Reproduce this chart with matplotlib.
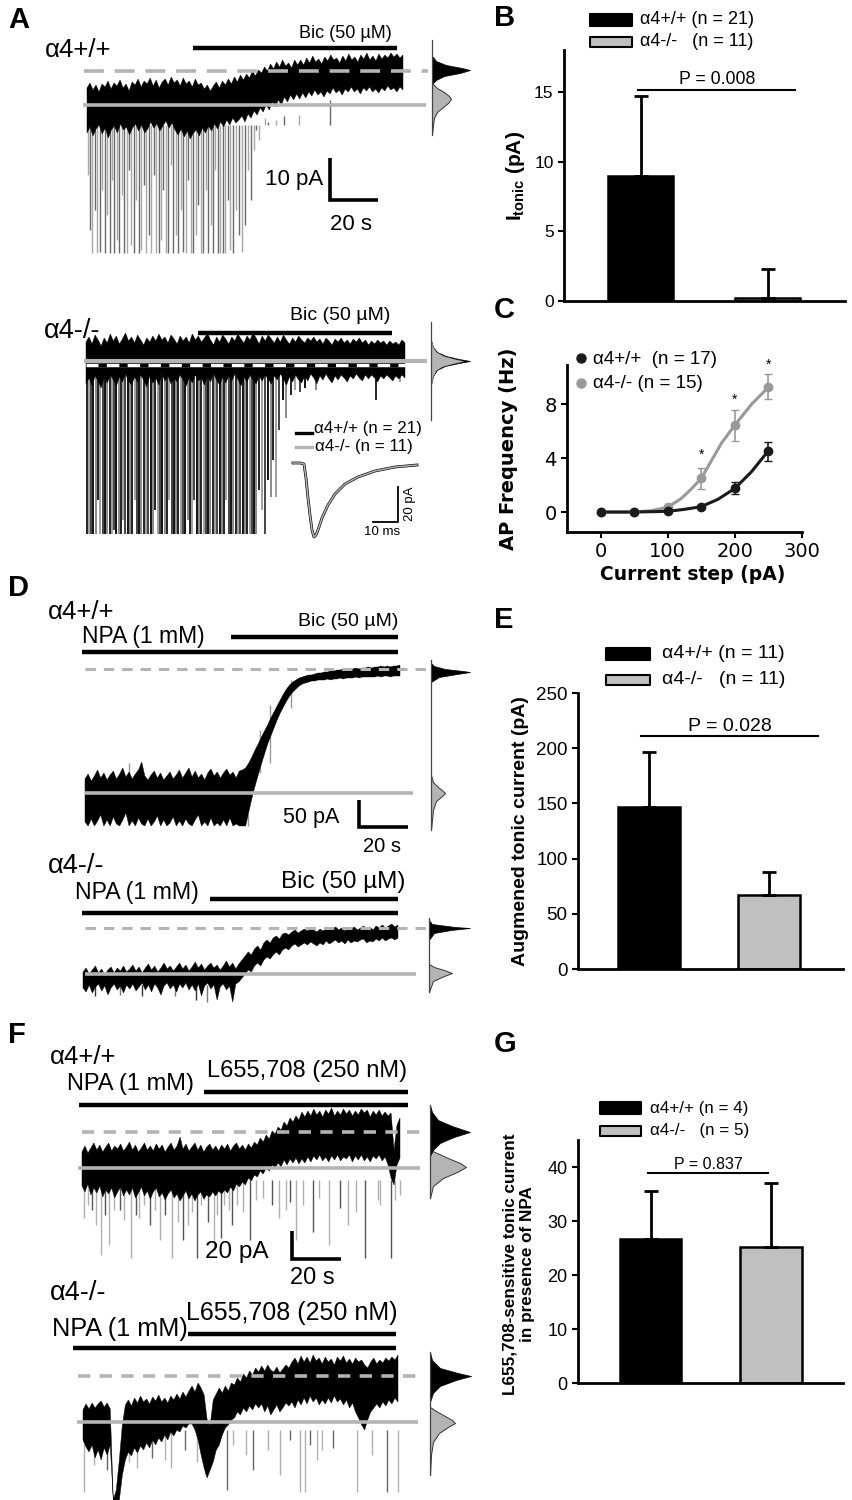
import numpy as np
import matplotlib
matplotlib.use('Agg')
import matplotlib.pyplot as plt

plt.rcParams['font.family'] = ['Liberation Sans', 'DejaVu Sans']
plt.rcParams['mathtext.fontset'] = 'custom'
plt.rcParams['mathtext.rm'] = 'Liberation Sans'
plt.rcParams['mathtext.bf'] = 'Liberation Sans:bold'

W, H = 852, 1500
GRAY = '#b4b4b4'

# ---- traces: envelopes in picture pixels ----
a1_top = [88,83,90,85,92,84,87,81,89,83,86,80,88,84,91,82,85,79,87,81,84,78,86,80,88,82,79,85,77,83,80,86,78,84,81,87,79,85,
          83,89,85,91,86,82,88,81,85,79,84,77,82,75,80,74,78,71,76,70,
          73,67,71,64,69,62,67,60,66,63,68,60,65,
          60,65,58,63,56,62,59,64,57,61,55,60,58,63,56,61,54,60,57,62,55,59,53,60,56,61,54,59,55,58,53,57,54,58,55]
a1_bot = [133,127,136,129,125,134,128,138,130,126,133,124,130,127,135,128,124,131,125,133,129,122,128,124,131,126,121,128,123,130,
          135,129,137,131,139,133,130,136,128,133,126,131,124,129,122,127,120,125,118,123,
          120,116,122,114,118,111,115,108,112,105,110,102,107,
          100,105,97,102,95,100,94,99,93,98,92,96,90,95,92,97,91,94,88,93,90,95,89,92,87,92,89,94,88,91,87,92,89,93,88,91,86,90,88,92,87,90]
a1_sx = [88,90,92,95,97,100,102,105,107,110,112,114,117,119,122,124,127,129,131,134,136,139,141,144,146,149,151,154,156,159,161,163,166,168,171,173,176,178,181,183,186,188,191,193,196,198,201,203,206,208,211,213,215,218,220,223,225,228,230,233,236,239,242,245,248,251,254,256,259,262,265,268,276,284,299,330]
a1_sy = [175,230,253,210,253,252,190,253,215,253,180,253,240,253,195,253,253,170,245,253,200,253,250,185,253,235,253,175,253,253,240,190,253,253,165,253,235,253,210,252,253,180,253,253,235,205,253,253,190,253,225,253,170,253,253,253,253,200,250,253,210,235,252,225,170,200,150,130,140,125,118,122,120,116,115,100]

a2_top = [342,337,344,335,340,346,338,343,334,341,336,344,339,333,341,337,343,335,340,345,338,342,336,341,334,340,337,343,335,339,344,336,341,337,343,334,340,336,342,338,333,340,345,337,342,335,339,344,337,341,334,339,343,336,340,333,338,344,336,341,335,339,343,337,342,335,340,344,338,342,336,340,343,338,341,337,342,339,344,338,341,345,339,342,338,343,340,344,339,342,338,343,340,345,341,344,340,343,341,345,341,344,342,345,340,343]
a2_bot = [384,378,386,376,381,388,377,383,375,380,386,377,382,374,381,385,377,382,375,380,387,376,383,378,385,374,381,376,384,378,382,375,380,386,377,383,375,381,378,385,376,382,374,380,385,377,383,376,381,374,379,386,377,382,375,380,384,376,381,375,379,384,376,380,374,379,385,377,382,375,380,383,376,381,374,378,384,376,380,374,379,383,376,380,375,378,382,376,379,374,378,381,375,379,375,378,382,376,379,375,378,381,376,379,375,378]
a2_sx = [87,89,91,93,96,98,100,103,105,107,110,112,114,116,119,121,123,125,128,130,132,135,137,139,141,144,146,148,151,153,155,158,160,162,165,167,169,172,174,176,178,181,183,185,188,190,192,194,197,199,201,204,206,208,210,213,215,217,220,222,224,226,229,231,233,236,238,240,243,245,247,250,252,254,256,259,262,265,268,271,273,276,279,283,286,291,295,300,305,316,376,400]
a2_sy = [534,534,534,534,534,500,534,534,534,534,534,534,530,534,534,534,520,534,534,534,534,500,534,534,534,534,534,534,534,534,510,534,534,534,534,534,500,534,534,534,534,534,534,534,520,534,534,500,534,534,534,534,534,534,534,534,534,534,534,534,534,500,534,534,534,534,534,534,534,534,534,534,534,534,534,490,510,534,480,497,460,497,430,400,418,395,390,392,388,390,400,382]

d1_top = [779,774,781,776,770,778,773,780,775,771,779,774,768,777,772,779,774,770,762,776,780,775,771,778,773,780,776,772,779,775,770,778,773,768,777,771,778,774,780,773,769,776,772,778,773,769,775,772,778,771,770,
          768,763,757,750,744,737,731,725,718,712,706,700,694,689,685,682,680,678,677,676,675,675,674,673,673,672,672,671,671,670,670,669,670,669,669,668,669,668,668,667,668,667,667,666,667,666,667,666,666,665]
d1_bot = [822,826,819,826,821,815,826,820,826,817,824,826,820,813,826,821,826,818,824,826,819,826,822,816,826,820,826,823,817,826,821,826,819,824,826,820,815,826,822,826,818,826,823,826,820,826,818,826,824,826,826,
          826,812,798,786,775,764,754,744,736,728,720,713,707,701,696,692,689,686,684,683,682,681,681,680,680,680,679,680,679,679,678,679,678,678,678,677,678,677,677,677,677,677,676,677,676,676,677,676,676,676]
d1_sx = [129,248,260,270,291]
d1_sy = [763,826,773,763,708]

d2_top = [972,968,974,970,966,973,969,975,970,967,973,968,971,966,972,969,965,971,967,973,968,964,970,966,972,968,963,969,966,971,967,963,969,965,971,967,962,968,964,970,966,963,968,965,970,966,961,967,963,969,
          964,960,956,952,955,949,946,950,943,940,943,938,936,939,934,933,935,932,930,933,931,929,931,928,930,932,929,931,928,930,929,927,930,928,931,928,929,927,930,928,926,929,927,930,926,928,925,928,926,924,927,925]
d2_bot = [988,992,985,993,987,984,991,986,995,988,984,990,986,993,985,989,984,991,987,983,990,985,992,984,988,995,986,983,989,985,992,984,988,983,990,985,991,984,996,986,983,989,985,1000,987,984,990,986,1002,984,
          982,978,974,970,972,966,963,966,960,957,959,955,952,955,950,948,950,946,944,947,945,943,945,942,944,946,943,945,941,944,942,940,943,941,944,940,943,941,942,940,939,943,941,942,939,941,938,941,939,938,940,938]
d2_sx = [95,120,142,175,196,207]
d2_sy = [996,995,996,996,1000,1002]

f1_top = [1152,1146,1153,1148,1143,1150,1145,1152,1147,1143,1151,1146,1149,1144,1151,1147,1142,1150,1145,1152,1148,1143,1150,1146,1151,1144,1149,1145,1152,1147,1143,1150,1146,1137,1149,1144,1151,1147,1143,1150,1145,1152,1147,1144,1150,1146,1151,1145,1149,1144,1151,1146,1143,1149,1145,
          1150,1144,1148,1142,1145,1138,1142,1135,1139,1131,1134,1127,1130,1122,1126,1118,1122,1116,1120,1112,
          1117,1111,1116,1109,1115,1111,1117,1110,1114,1108,1116,1111,1115,1109,1114,1110,1116,1111,1115,1109,1113,1110,1117,1111,1115,1110,1116,1112,1116,1113,1150,1125,1118]
f1_bot = [1186,1192,1184,1195,1188,1193,1186,1197,1190,1194,1188,1198,1192,1187,1196,1190,1195,1188,1198,1193,1187,1196,1191,1199,1192,1188,1197,1193,1200,1194,1190,1198,1194,1201,1196,1191,1199,1194,1201,1195,1192,1199,1195,1197,1192,1196,1191,1194,1190,1193,1187,1191,1184,1187,1182,
          1185,1178,1181,1175,1177,1171,1174,1168,1171,1165,1168,1163,1167,1160,1165,1159,1163,1158,1164,1159,
          1163,1157,1162,1156,1160,1155,1161,1157,1162,1156,1160,1155,1161,1157,1159,1155,1162,1156,1160,1155,1161,1157,1162,1156,1159,1155,1161,1157,1165,1178,1185,1165,1158]
f1_sx = [84,88,92,96,101,105,109,114,120,124,131,136,139,144,150,155,160,165,172,178,183,188,192,197,201,204,208,214,217,221,224,229,232,237,243,250,256,263,272,279,286,290,296,303,313,319,329,340,348,356,365,378,380,391,395,400]
f1_sy = [1218,1205,1210,1225,1255,1215,1245,1210,1210,1220,1258,1215,1218,1205,1225,1210,1240,1215,1258,1222,1240,1225,1212,1258,1205,1200,1222,1250,1215,1238,1205,1210,1225,1205,1212,1240,1200,1198,1205,1218,1210,1202,1240,1205,1232,1198,1245,1208,1225,1212,1258,1200,1205,1258,1200,1195]

f2_top = [1410,1404,1409,1403,1408,1404,1401,1407,1403,1409,
          1500,1490,1460,1425,
          1405,1400,1406,1398,1403,1396,1402,1399,1404,1397,1401,1395,1402,1398,1403,1396,1400,1394,1399,1392,1397,1391,
          1386,1392,1383,1388,1395,
          1420,1425,
          1400,1394,1388,1393,1386,1391,1383,
          1385,1378,1382,1374,1378,1371,1375,1368,1372,1366,1371,1365,1370,1372,1367,1373,1369,1365,1368,
          1362,1358,1364,1356,1362,1357,1363,1355,1361,1358,1364,1357,1362,1359,1365,1357,1361,1356,1363,1359,1364,1358,1362,1360,1365,1368,1362,1358,1364,1360,1363,1358,1361,1357,1360,1355]
f2_bot = [1440,1447,1452,1445,1458,1450,1460,1448,1455,1445,
          1500,1500,1500,1475,
          1460,1452,1456,1448,1453,1446,1450,1443,1448,1440,1445,1438,1442,1435,1440,1432,1436,1430,1432,1426,1428,1424,
          1424,1430,1440,1455,1468,
          1478,1470,
          1462,1450,1445,1435,1428,1425,1420,
          1418,1412,1415,1408,1412,1406,1410,1404,1408,1404,1412,1406,1415,1410,1405,1412,1408,1403,1406,
          1402,1408,1400,1405,1398,1404,1396,1402,1398,1405,1400,1404,1398,1403,1396,1402,1399,1405,1400,1408,1403,1412,1418,1425,1430,1420,1412,1408,1404,1408,1402,1406,1400,1404,1398,1402]
f2_sx = [84,94,107,129,137,152,165,171,185,197,205,227,233,246,253,268,280,290,300,305,310,317,322,333,357,372,387,398]
f2_sy = [1492,1465,1470,1462,1468,1458,1460,1468,1450,1462,1475,1490,1445,1455,1470,1450,1475,1440,1492,1492,1445,1460,1450,1448,1492,1455,1492,1492]

# histograms beside the traces: y px, profile width px
a1_hist_y = [57,61,65,68,70,73,76,80,83]
a1_hist_w = [1,4,14,30,38,28,12,4,1]
a1_hist2_y = [84,88,92,96,99,103,107,112,118,125,135]
a1_hist2_w = [1,5,12,17,19,16,11,5,2,1,0]
a2_hist_y = [340,347,352,356,359,361,363,366,370,376,385]
a2_hist_w = [0,2,6,15,28,39,28,14,6,2,0]
d1_hist_y = [663,666,669,671,672,674,677,682]
d1_hist_w = [0,3,14,32,39,26,8,0]
d1_hist2_y = [775,782,787,791,793,796,801,810,830]
d1_hist2_w = [0,2,7,12,14,11,5,2,0]
d2_hist_y = [920,924,927,928,930,933,940]
d2_hist_w = [0,3,26,41,22,5,0]
d2_hist2_y = [964,967,970,973,976,981,992]
d2_hist2_w = [0,5,15,23,15,4,0]
f1_hist_y = [1105,1112,1120,1126,1132,1137,1143,1150,1156]
f1_hist_w = [0,2,8,22,40,24,10,3,0]
f1_hist2_y = [1150,1153,1158,1163,1167,1172,1178,1186,1198]
f1_hist2_w = [0,7,18,30,36,27,13,3,0]
f2_hist_y = [1352,1360,1368,1373,1376,1380,1386,1393,1402]
f2_hist_w = [0,2,10,28,41,26,10,3,0]
f2_hist2_y = [1407,1411,1416,1420,1423,1427,1433,1442,1455,1475]
f2_hist2_w = [0,6,15,22,25,18,9,3,1,0]

# mean mIPSC in the inset
ipsc_t = [293,300,304,306,308,310,312,314,316,318,322,328,335,345,358,375,395,417]
ipsc_y = [463,463,464,478,498,515,530,537,535,530,518,505,494,484,477,471,467,465]

# ---- bar panels ----
b_vals = [9.0, 0.25]
b_errs = [14.7, 2.3]
b_p = 15.15
e_vals = [147, 67]
e_errs = [197, 88]
e_p = 211
g_vals = [26.7, 25.2]
g_errs = [35.5, 37]
g_p = 38.9

# ---- panel C ----
steps = [0, 50, 100, 150, 200, 250]
c_black = [0, 0, 0.05, 0.4, 1.75, 4.55]
c_gray = [0, 0, 0.35, 2.5, 6.45, 9.25]
c_black_lo = [0, 0, 0, 0.3, 1.3, 3.8]
c_black_hi = [0, 0, 0.1, 0.5, 2.2, 5.2]
c_gray_lo = [0, 0, 0.25, 1.7, 5.3, 8.4]
c_gray_hi = [0, 0, 0.45, 3.3, 7.6, 10.2]
c_black_cx = [0, 50, 100, 125, 150, 175, 200, 225, 250]
c_black_cy = [0, 0, 0.05, 0.2, 0.4, 0.95, 1.75, 3, 4.55]
c_gray_cx = [0, 50, 75, 100, 120, 135, 150, 165, 180, 200, 225, 250]
c_gray_cy = [0, 0, 0.1, 0.35, 1, 1.7, 2.5, 3.8, 5.1, 6.45, 8, 9.25]
star_x = [150, 200, 250]
star_y = [3.7, 7.8, 10.4]

fig = plt.figure(figsize=(W / 100, H / 100), dpi=100)

# whole figure pixel axes for the recordings
px = fig.add_axes([0, 0, 1, 1])
px.set_xlim(0, W)
px.set_ylim(H, 0)
px.axis('off')


def sub_axes(left, top, right, bottom):
    a = fig.add_axes([left / W, 1 - bottom / H, (right - left) / W, (bottom - top) / H])
    a.patch.set_alpha(0)
    for s in ['top', 'right']:
        a.spines[s].set_visible(False)
    for s in ['left', 'bottom']:
        a.spines[s].set_linewidth(2)
    a.tick_params(width=1.5, length=4)
    return a


def trace(x0, x1, top, bot, sx=None, sy=None, base=None, sp_lw=1.0, sp_cols=('#a8a8a8', '#6a6a6a')):
    if sx is not None:
        px.vlines(sx, base, sy, colors=list(sp_cols), lw=sp_lw, zorder=0.5)
    xt = np.linspace(x0, x1, len(top))
    xb = np.linspace(x0, x1, len(bot))
    px.fill(np.r_[xt, xb[::-1]], np.r_[top, bot[::-1]], color='k', lw=0.3)


def hist(x, y1, w1, y2, w2, top, bottom):
    px.plot([x, x], [top, bottom], color='#444444', lw=0.9)
    px.fill_betweenx(y2, x, np.array(w2) + x, color=GRAY, ec='#333333', lw=0.7)
    px.fill_betweenx(y1, x, np.array(w1) + x, color='k', lw=0.5)


def hbar(x0, x1, y, lw=3.2):
    px.plot([x0, x1], [y, y], color='k', lw=lw, solid_capstyle='butt')


def solid(x0, x1, y, lw=2.6):
    px.plot([x0, x1], [y, y], color=GRAY, lw=lw, solid_capstyle='butt')


def dashed(x0, x1, y, lw=2.6, on=5.5, off=3):
    px.plot([x0, x1], [y, y], color=GRAY, lw=lw, linestyle=(0, (on, off)), dash_capstyle='butt')


def scale(x0, y0, x1, y1):
    px.plot([x0, x0, x1], [y0, y1, y1], color='k', lw=2.6, solid_joinstyle='miter', solid_capstyle='butt')


def label(x, y, s, size=16.5, **kw):
    kw.setdefault('va', 'center')
    px.text(x, y, s, fontsize=size, **kw)


# panel letters
for (lx, ly, s) in [(8, 20, 'A'), (494, 18, 'B'), (494, 310, 'C'), (8, 588, 'D'),
                    (494, 620, 'E'), (8, 1035, 'F'), (494, 1044, 'G')]:
    label(lx, ly, s, size=21, fontweight='bold')

# A top
trace(87, 403, a1_top, a1_bot, a1_sx, a1_sy, base=125)
dashed(84, 428, 71)
solid(83, 426, 105)
hbar(193, 397, 48)
label(345, 33, 'Bic (50 µM)', size=13, ha='center')
label(45, 50, 'α4+/+', size=18.5)
hist(432, a1_hist_y, a1_hist_w, a1_hist2_y, a1_hist2_w, 40, 135)
scale(330, 158, 378, 200)
label(265, 180, '10 pA', size=16)
label(330, 224, '20 s', size=16)

# A bottom
trace(86, 405, a2_top, a2_bot, a2_sx, a2_sy, base=375, sp_lw=1.4, sp_cols=('#222222', '#a0a0a0', '#444444', '#111111', '#8a8a8a'))
px.plot([86, 405], [365, 365], color='w', lw=2.5, solid_capstyle='butt')
px.plot([98, 405], [365, 365], color='k', lw=2.5, linestyle=(0, (2.4, 3.6)), dash_capstyle='butt')
solid(84, 427, 361, lw=3)
hbar(198, 392, 333)
label(340, 316, 'Bic (50 µM)', size=14, ha='center')
label(44, 331, 'α4-/-', size=19.5)
px.plot([431, 431], [322, 420], color='#444444', lw=0.9)
px.fill_betweenx(a2_hist_y, 431, 431 + np.array(a2_hist_w), color='k', lw=0.5)
px.fill_betweenx(a2_hist_y, 431, 431 + np.array(a2_hist_w) * 0.82, color=GRAY, lw=0.3)

px.plot([296, 312], [433, 433], color='k', lw=2.4)
px.plot([296, 312], [447, 447], color=GRAY, lw=2.4)
label(314, 429, 'α4+/+ (n = 21)', size=12.2)
label(315, 447, 'α4-/- (n = 11)', size=12.2)
px.plot(ipsc_t, ipsc_y, color='k', lw=2)
px.plot(ipsc_t, ipsc_y, color=GRAY, lw=1.1)
px.plot([373, 398, 398], [522, 522, 487], color='k', lw=1.3)
label(382, 532, '10 ms', size=9.5, ha='center')
label(410, 504, '20 pA', size=9.5, rotation=90, ha='center')

# D top
trace(85, 400, d1_top, d1_bot, d1_sx, d1_sy, base=[775, 815, 730, 705, 680], sp_cols=('#999999',))
dashed(85, 428, 669, lw=2.2, on=3.4, off=2.6)
solid(85, 413, 793)
hbar(82, 398, 652)
hbar(231, 398, 637)
label(48, 612, 'α4+/+', size=18.5)
label(82, 637, 'NPA (1 mM)', size=16.5)
label(348, 621, 'Bic (50 µM)', size=14, ha='center')
hist(431, d1_hist_y, d1_hist_w, d1_hist2_y, d1_hist2_w, 660, 830)
scale(359, 800, 408, 827)
label(283, 817, '50 pA', size=15.5)
label(363, 846, '20 s', size=14.5)

# D bottom
trace(83, 398, d2_top, d2_bot, d2_sx, d2_sy, base=985, sp_cols=('#333333', '#777777'))
dashed(85, 428, 928, lw=2.2, on=3.4, off=2.6)
solid(85, 416, 974)
hbar(82, 398, 913)
hbar(210, 398, 899)
label(48, 866, 'α4-/-', size=19.5)
label(75, 892, 'NPA (1 mM)', size=16.7)
label(281, 882, 'Bic (50 µM)', size=17.5)
hist(429, d2_hist_y, d2_hist_w, d2_hist2_y, d2_hist2_w, 918, 992)

# F top
trace(82, 400, f1_top, f1_bot, f1_sx, f1_sy, base=1180, sp_cols=('#b0b0b0', '#b0b0b0', '#555555'))
dashed(82, 420, 1132, lw=2.6, on=3.4, off=2.6)
solid(78, 420, 1168)
hbar(79, 408, 1105)
hbar(204, 408, 1092)
label(50, 1057, 'α4+/+', size=18.5)
label(67, 1084, 'NPA (1 mM)', size=17)
label(207, 1071, 'L655,708 (250 nM)', size=17)
hist(430, f1_hist_y, f1_hist_w, f1_hist2_y, f1_hist2_w, 1105, 1198)
scale(292, 1231, 341, 1259)
label(205, 1252, '20 pA', size=17.5)
label(290, 1278, '20 s', size=17)

# F bottom
trace(83, 398, f2_top, f2_bot, f2_sx, f2_sy, base=1430, sp_cols=('#b0b0b0', '#b0b0b0', '#666666'))
dashed(78, 418, 1376, lw=2.6, on=3.4, off=2.6)
solid(77, 418, 1422)
hbar(73, 396, 1348)
hbar(188, 396, 1334)
label(50, 1293, 'α4-/-', size=19.5)
label(52, 1329, 'NPA (1 mM)', size=18.2)
label(186, 1313, 'L655,708 (250 nM)', size=18)
hist(430, f2_hist_y, f2_hist_w, f2_hist2_y, f2_hist2_w, 1352, 1475)


def bar_panel(ax, vals, errs, pval, p_xs, p_text, ly0, ly1, leg_x0, leg_x1, leg_text_x, names, leg_font, p_font):
    ax.bar([0, 1], vals, width=0.51, color=['k', '#c0c0c0'], edgecolor='k', linewidth=1.8)
    for i in range(2):
        ax.errorbar(i, vals[i], yerr=[[0], [errs[i] - vals[i]]], color='k', lw=2, capsize=5, capthick=2)
    ax.plot(p_xs, [pval, pval], color='k', lw=1.5)
    ax.annotate(p_text, (np.mean(p_xs), pval), xytext=(0, 1), textcoords='offset points',
                ha='center', va='bottom', fontsize=p_font)
    ax.set_xticks([])
    px.fill_between([leg_x0, leg_x1], [ly0 - 6, ly0 - 6], [ly0 + 6, ly0 + 6], color='k', lw=1.5)
    px.fill_between([leg_x0, leg_x1], [ly1 - 5, ly1 - 5], [ly1 + 5, ly1 + 5], facecolor='#c0c0c0', edgecolor='k', lw=1.5)
    label(leg_text_x, ly0, names[0], size=leg_font)
    label(leg_text_x, ly1, names[1], size=leg_font)


# B
axb = sub_axes(564, 50, 845, 301)
axb.set_xlim((564 - 640.5) / 127, (845 - 640.5) / 127)
axb.set_ylim(0, 18)
bar_panel(axb, b_vals, b_errs, b_p, [-0.02, 1.22], 'P = 0.008', 20, 42, 590, 632, 640,
          ['α4+/+ (n = 21)', 'α4-/-   (n = 11)'], 13, 12.8)
axb.set_yticks([0, 5, 10, 15])
axb.tick_params(axis='y', labelsize=12.5)
axb.set_ylabel(r'$\mathbf{I_{tonic}}$ (pA)', fontsize=15, fontweight='bold', labelpad=5)

# C
axc = sub_axes(567, 365, 802, 532)
axc.set_xlim(-50, 300)
axc.set_ylim(-1.48, 10.9)
axc.plot(c_gray_cx, c_gray_cy, color='#999999', lw=2.2)
axc.plot(c_black_cx, c_black_cy, color='#1a1a1a', lw=2.2)
axc.errorbar(steps, c_gray, yerr=[np.array(c_gray) - c_gray_lo, np.array(c_gray_hi) - c_gray],
             fmt='o', color='#999999', ms=6, capsize=3, lw=1.2)
axc.errorbar(steps, c_black, yerr=[np.array(c_black) - c_black_lo, np.array(c_black_hi) - c_black],
             fmt='o', color='#1a1a1a', ms=6, capsize=3, lw=1.2)
for i in range(len(star_x)):
    axc.text(star_x[i], star_y[i], '*', ha='center', va='bottom', fontsize=10)
axc.set_xticks([0, 100, 200, 300])
axc.set_yticks([0, 4, 8])
for t in axc.get_xticklabels() + axc.get_yticklabels():
    t.set_family('DejaVu Sans')
    t.set_fontsize(14)
axc.set_xlabel('Current step (pA)', fontsize=13.5, fontweight='bold', family='DejaVu Sans')
axc.xaxis.set_label_coords((693 - 567) / 235, -0.2)
axc.set_ylabel('AP Frequency (Hz)', fontsize=14, fontweight='bold', family='DejaVu Sans')
axc.yaxis.set_label_coords((518 - 567) / 235, (532 - 449) / 167)
px.plot([581], [358], 'o', color='#1a1a1a', ms=6.5)
px.plot([581], [383], 'o', color='#999999', ms=6.5)
label(593, 359, 'α4+/+  (n = 17)', size=13.5)
label(593, 384, 'α4-/- (n = 15)', size=13.5)

# E
axe = sub_axes(578, 693, 843, 969)
axe.set_xlim((578 - 649) / 120, (843 - 649) / 120)
axe.set_ylim(0, 250)
bar_panel(axe, e_vals, e_errs, e_p, [-0.07, 1.41], 'P = 0.028', 654, 680, 606, 650, 662,
          ['α4+/+ (n = 11)', 'α4-/-   (n = 11)'], 14, 14)
axe.set_yticks([0, 50, 100, 150, 200, 250])
axe.tick_params(axis='y', labelsize=13.5)
axe.set_ylabel('Augmened tonic current (pA)', fontsize=14, fontweight='bold', labelpad=5)

# G
axg = sub_axes(578, 1140, 843, 1383)
axg.set_xlim((578 - 650.5) / 120.5, (843 - 650.5) / 120.5)
axg.set_ylim(0, 45)
bar_panel(axg, g_vals, g_errs, g_p, [-0.02, 0.975], 'P = 0.837', 1108, 1131, 600, 641, 650,
          ['α4+/+ (n = 4)', 'α4-/-   (n = 5)'], 12.2, 11.5)
axg.set_yticks([0, 10, 20, 30, 40])
axg.tick_params(axis='y', labelsize=13)
label(519, 1264, 'L655,708-sensitive tonic current\nin presence of NPA', size=12.3, fontweight='bold',
      rotation=90, ha='center', multialignment='center', linespacing=1.2)

fig.savefig('out.png', dpi=100)
